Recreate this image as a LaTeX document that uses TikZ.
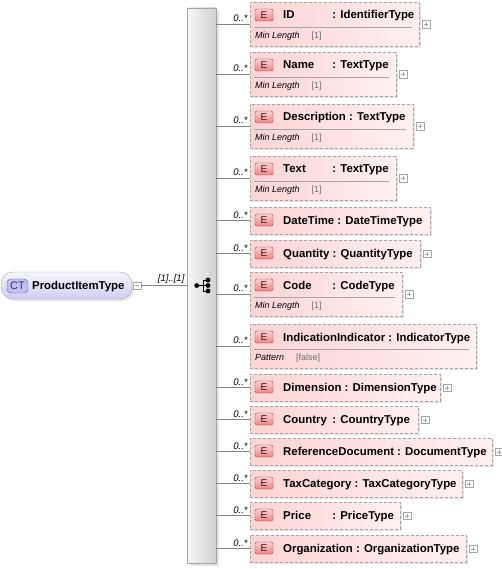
\documentclass[tikz,border=0pt]{standalone}
\usepackage{fontspec}
\setmainfont{Liberation Sans}
\usetikzlibrary{calc}
\definecolor{colElemL}{RGB}{252,212,212}
\definecolor{colElemR}{RGB}{255,240,240}
\definecolor{colElemLine}{RGB}{165,165,165}
\definecolor{colShadow}{RGB}{228,228,228}
\definecolor{colBadgeT}{RGB}{252,206,206}
\definecolor{colBadgeB}{RGB}{232,136,136}
\definecolor{colBadgeLine}{RGB}{168,56,56}
\definecolor{colBadgeText}{RGB}{80,16,16}
\definecolor{colCTT}{RGB}{246,246,255}
\definecolor{colCTB}{RGB}{206,206,246}
\definecolor{colCTBadge}{RGB}{192,192,242}
\definecolor{colCTLine}{RGB}{90,90,170}
\definecolor{colSeqL}{RGB}{246,246,246}
\definecolor{colSeqR}{RGB}{210,210,210}
\definecolor{colConn}{RGB}{130,130,130}
\definecolor{colFacet}{RGB}{110,110,110}
\newlength{\namew}
\newcommand{\namecol}[1]{\settowidth{\namew}{#1}\ifdim\namew<46pt\namew=46pt\fi\makebox[\namew][l]{#1}}
% element box: node name, top, bottom, right, header text
\newcommand{\elembox}[5]{%
  \fill[colShadow] (252,#2+2) rectangle (#4+2,#3+2);
  \node[elem, minimum width={#4pt-250pt}, minimum height={#3pt-#2pt}] (#1) at (250,#2) {};
  \node[ebadge] (#1-e) at (264,#2+13) {E};
  \node[ename] (#1-t) at (283,#2+17) {#5};
  \draw[conn] (seq.east |- #1.west) -- (#1.west) node[mult] {0..*};
}
% facet row: top, right, key, value
\newcommand{\facetrow}[4]{%
  \draw[sepline] (254,#1+25) -- (#2-7,#1+25);
  \node[facetkey] at (255,#1+36.5) {#3\hspace{12pt}{\upshape\color{colFacet}#4}};
}
\newcommand{\plusat}[1]{\node[plusbox, anchor=west, xshift=3pt] at (#1.east) {};}

\begin{document}
\begin{tikzpicture}[x=1pt, y=-1pt,
    elem/.style={draw=colElemLine, dash pattern=on 3pt off 2pt, left color=colElemL, right color=colElemR, anchor=north west, inner sep=0},
    ebadge/.style={draw=colBadgeLine, top color=colBadgeT, bottom color=colBadgeB, rounded corners=1.5pt, minimum width=18pt, minimum height=12pt, inner sep=0, font=\fontsize{10}{12}\selectfont, text=colBadgeText},
    ename/.style={anchor=base west, inner sep=0, font=\fontsize{11.4}{13}\selectfont\bfseries},
    facetkey/.style={anchor=base west, inner sep=0, font=\fontsize{9}{10}\selectfont\itshape},
    mult/.style={anchor=south east, inner sep=0, xshift=-2pt, yshift=2pt, font=\fontsize{9.5}{11}\selectfont\itshape},
    conn/.style={draw=colConn, line width=0.8pt},
    sepline/.style={draw=colElemLine, line width=0.8pt},
    plusbox/.style={draw=colElemLine, fill=white, minimum size=7.5pt, inner sep=0,
      path picture={\draw[colElemLine] ([xshift=-2pt]path picture bounding box.center) -- ([xshift=2pt]path picture bounding box.center)
        ([yshift=-2pt]path picture bounding box.center) -- ([yshift=2pt]path picture bounding box.center);}},
    minusbox/.style={draw=colElemLine, fill=white, minimum size=7.5pt, inner sep=0,
      path picture={\draw[colElemLine] ([xshift=-2pt]path picture bounding box.center) -- ([xshift=2pt]path picture bounding box.center);}},
    ctbox/.style={draw=colElemLine, top color=colCTT, bottom color=colCTB, rounded corners=12pt, minimum width=131pt, minimum height=27pt, inner sep=0},
    ctbadge/.style={draw=colCTLine, fill=colCTBadge, rounded corners=4pt, minimum width=21pt, minimum height=14pt, inner sep=0, font=\fontsize{11}{12}\selectfont, text=colCTLine!60!black},
    seqbar/.style={draw=colElemLine, left color=colSeqL, right color=colSeqR, minimum width=29pt, minimum height=555pt, inner sep=0}]
  \useasboundingbox (0,0) rectangle (502,569);
  % --- complex type ---
  \fill[colShadow, rounded corners=12pt] (3,274) rectangle (134,301);
  \node[ctbox] (ct) at (66.5,285.5) {};
  \node[ctbadge] (ct-b) at (17.5,286) {CT};
  \node[ename] (ct-t) at (32,289.5) {ProductItemType};
  \node[minusbox, anchor=west, xshift=1pt] (ct-m) at (ct.east) {};
  % --- sequence ---
  \fill[colShadow] (189.5,10) rectangle (218.5,565.5);
  \node[seqbar] (seq) at (201.5,285.5) {};
  \draw[conn] (ct-m.east) -- (seq.west |- ct-m.east) node[mult] {[1]..[1]};
  \begin{scope}[shift={(seq.center)}]
    \draw[line width=0.9pt] (-4.8,0) -- (1.5,0) (1.5,-5.5) -- (1.5,5.5);
    \draw[line width=0.9pt] (1.5,-5.5) -- (6.5,-5.5) (1.5,0) -- (6.5,0) (1.5,5.5) -- (6.5,5.5);
    \foreach \p in {(-4.8,0),(6.5,-5.5),(6.5,0),(6.5,5.5)} \fill \p circle (2.4pt);
  \end{scope}
  % --- elements ---
  \elembox{id}{2}{46}{419}{\namecol{ID} : IdentifierType}
  \facetrow{2}{419}{Min Length}{[1]}
  \plusat{id}
  \elembox{name}{52}{96}{396}{\namecol{Name} : TextType}
  \facetrow{52}{396}{Min Length}{[1]}
  \plusat{name}
  \elembox{descr}{104}{148}{413}{\namecol{Description} : TextType}
  \facetrow{104}{413}{Min Length}{[1]}
  \plusat{descr}
  \elembox{text}{156}{200}{396}{\namecol{Text} : TextType}
  \facetrow{156}{396}{Min Length}{[1]}
  \plusat{text}
  \elembox{datetime}{207}{234}{430}{\namecol{DateTime} : DateTimeType}
  \elembox{qty}{240}{267}{420}{\namecol{Quantity} : QuantityType}
  \plusat{qty}
  \elembox{code}{272}{316}{402}{\namecol{Code} : CodeType}
  \facetrow{272}{402}{Min Length}{[1]}
  \plusat{code}
  \elembox{indic}{324}{368}{476}{\namecol{IndicationIndicator} : IndicatorType}
  \facetrow{324}{476}{Pattern}{[false]}
  \elembox{dim}{374}{401}{440}{\namecol{Dimension} : DimensionType}
  \plusat{dim}
  \elembox{country}{406}{433}{418}{\namecol{Country} : CountryType}
  \plusat{country}
  \elembox{refdoc}{438}{465}{492}{\namecol{ReferenceDocument} : DocumentType}
  \plusat{refdoc}
  \elembox{taxcat}{470}{497}{462}{\namecol{TaxCategory} : TaxCategoryType}
  \plusat{taxcat}
  \elembox{price}{502}{529}{400}{\namecol{Price} : PriceType}
  \plusat{price}
  \elembox{org}{535}{562}{466}{\namecol{Organization} : OrganizationType}
  \plusat{org}
\end{tikzpicture}
\end{document}
